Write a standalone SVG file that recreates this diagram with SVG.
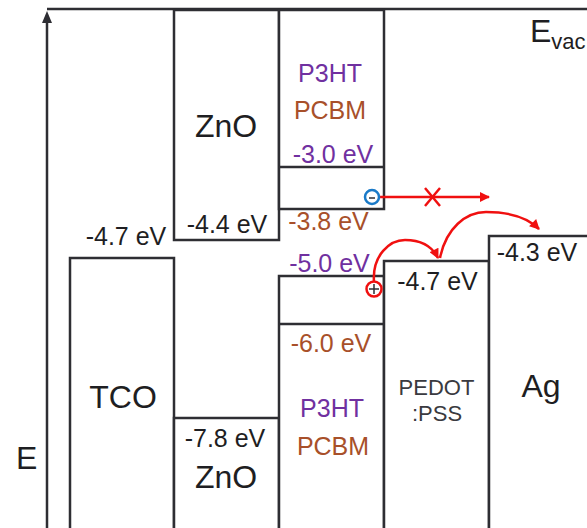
<svg xmlns="http://www.w3.org/2000/svg" width="587" height="528" viewBox="0 0 587 528">
<style>
.box{fill:#fff;stroke:#2e2e33;stroke-width:2.5}
.ln{stroke:#2e2e33;stroke-width:2.5;fill:none}
text{font-family:"Liberation Sans",Arial,sans-serif;fill:#1e1e22}
.big{font-size:32px}
.ev{font-size:25px}
.mid{text-anchor:middle}
.pu{fill:#7030A0}
.br{fill:#A8502A}
.red{stroke:#f01010;stroke-width:2.5;fill:none}
</style>
<defs>
<marker id="ah" viewBox="0 0 10 10" refX="9" refY="5" markerWidth="4.2" markerHeight="4" markerUnits="strokeWidth" orient="auto">
<path d="M0,0 L10,5 L0,10 z" fill="#f01010"/>
</marker>
<marker id="axh" viewBox="0 0 12 10" refX="1" refY="5" markerWidth="12" markerHeight="10" markerUnits="userSpaceOnUse" orient="auto">
<path d="M0,0 L12,5 L0,10 z" fill="#2e2e33"/>
</marker>
</defs>
<rect width="587" height="528" fill="#fff"/>
<g id="axis">
<line class="ln" x1="47" y1="9" x2="587" y2="9"/>
<line class="ln" x1="47" y1="528" x2="47" y2="22" marker-end="url(#axh)"/>
<text class="big" x="16" y="469">E</text>
<text class="big" x="530" y="42">E<tspan font-size="22" dy="7">vac</tspan></text>
</g>
<g id="tco">
<rect class="box" x="70" y="258" width="104" height="280"/>
<text class="big mid" x="123" y="408">TCO</text>
<text class="ev mid" x="126" y="245">-4.7 eV</text>
</g>
<g id="zno-top">
<rect class="box" x="174" y="10" width="105" height="230"/>
<text class="big mid" x="226" y="137">ZnO</text>
<text class="ev mid" x="227" y="233">-4.4 eV</text>
</g>
<g id="zno-bottom">
<rect class="box" x="174" y="418" width="105" height="120"/>
<text class="ev mid" x="225" y="447">-7.8 eV</text>
<text class="big mid" x="226" y="488">ZnO</text>
</g>
<g id="p3ht-top">
<rect class="box" x="279" y="10" width="105" height="199"/>
<line class="ln" x1="279" y1="167" x2="384" y2="167"/>
<text class="ev mid pu" x="330" y="82">P3HT</text>
<text class="ev mid br" x="330" y="119">PCBM</text>
<text class="ev mid pu" x="333" y="163">-3.0 eV</text>
<text class="ev mid br" x="328.5" y="230">-3.8 eV</text>
</g>
<g id="p3ht-bottom">
<rect class="box" x="279" y="276" width="105" height="262"/>
<line class="ln" x1="279" y1="324" x2="384" y2="324"/>
<text class="ev mid pu" x="329.5" y="272">-5.0 eV</text>
<text class="ev mid br" x="331" y="352">-6.0 eV</text>
<text class="ev mid pu" x="332" y="417">P3HT</text>
<text class="ev mid br" x="333" y="455">PCBM</text>
</g>
<g id="pedot">
<rect class="box" x="384" y="261" width="105" height="277"/>
<text class="ev mid" x="437.5" y="290">-4.7 eV</text>
<text class="mid" font-size="22" x="436.5" y="395" style="fill:#3a3a40">PEDOT</text>
<text class="mid" font-size="22" x="437" y="421" style="fill:#3a3a40">:PSS</text>
</g>
<g id="ag">
<rect class="box" x="489" y="236" width="110" height="302"/>
<text class="ev mid" x="537" y="261">-4.3 eV</text>
<text class="big mid" x="541" y="397">Ag</text>
</g>
<g id="connectors">
<line class="red" x1="379" y1="197" x2="489" y2="197" marker-end="url(#ah)"/>
<line class="red" x1="425" y1="188" x2="440" y2="206"/>
<line class="red" x1="440" y1="188" x2="425" y2="206"/>
<path class="red" d="M374,282 C372,255 390,240 405,240 C420,240 432,246 438,258" marker-end="url(#ah)"/>
<path class="red" d="M440,258 C446,228 466,212 486,212 C510,212 528,218 539,229" marker-end="url(#ah)"/>
</g>
<g id="electron">
<circle cx="372" cy="197" r="7" fill="#fff" stroke="#1a7ac8" stroke-width="2.5"/>
<line x1="369" y1="198" x2="375" y2="198" stroke="#2e2e33" stroke-width="1.5"/>
</g>
<g id="hole">
<circle cx="374" cy="289" r="7.5" fill="none" stroke="#f01010" stroke-width="2.5"/>
<line x1="369" y1="289" x2="379" y2="289" stroke="#2e2e33" stroke-width="1.5"/>
<line x1="374" y1="284" x2="374" y2="294" stroke="#2e2e33" stroke-width="1.5"/>
</g>
</svg>
